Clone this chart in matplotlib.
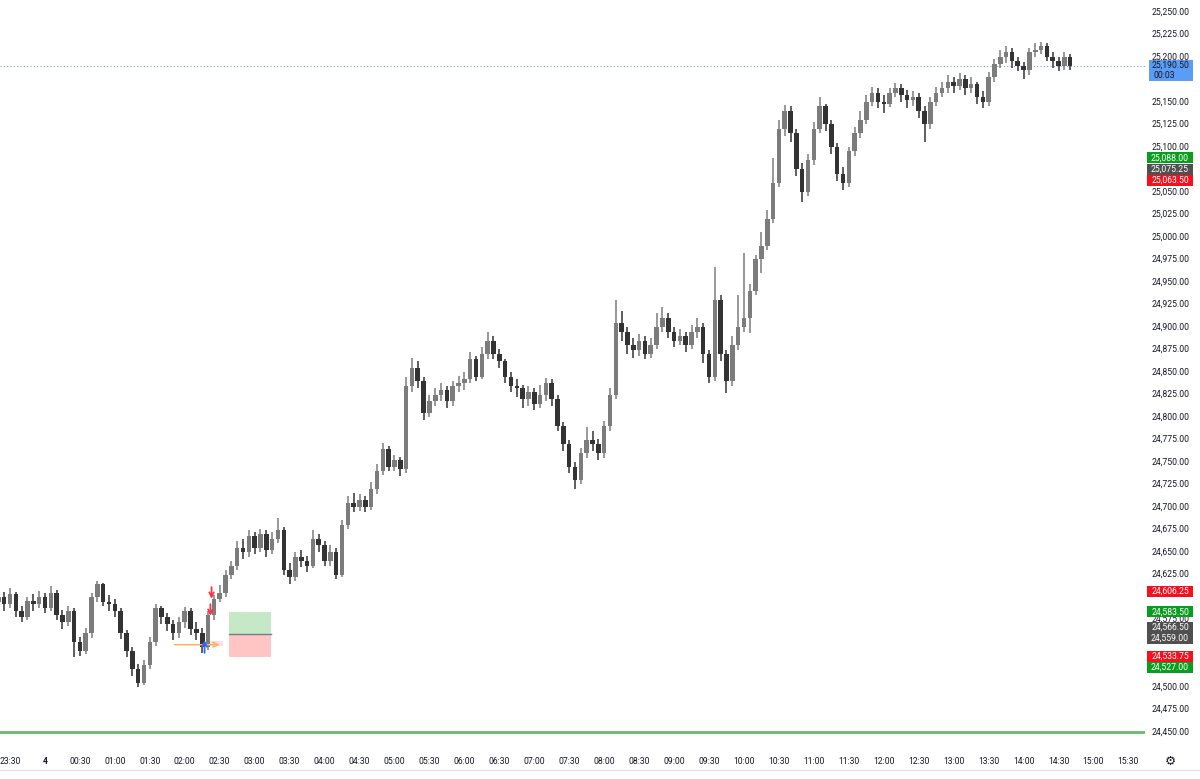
import matplotlib
matplotlib.use("Agg")
import matplotlib.pyplot as plt
import matplotlib.transforms as mtransforms
from matplotlib.patches import Rectangle
from matplotlib.lines import Line2D
import numpy as np

# ---------------- data ----------------
bar_start = "23:20"
bar_minutes = 5
first_open = 24595

closes = [
    24600, 24592, 24603, 24585, 24578, 24596, 24592, 24600, 24588, 24605,
    24580, 24572, 24585, 24550, 24540, 24560, 24600, 24615, 24595, 24592,
    24585, 24560, 24540, 24520, 24505, 24525, 24550, 24588, 24578, 24570,
    24560, 24572, 24585, 24565, 24560, 24545, 24580, 24598, 24605, 24625,
    24635, 24655, 24650, 24668, 24655, 24670, 24652, 24665, 24675, 24630,
    24622, 24645, 24640, 24635, 24665, 24658, 24640, 24650, 24625, 24680,
    24705, 24700, 24708, 24700, 24720, 24740, 24765, 24745, 24752, 24742,
    24835, 24855, 24840, 24805, 24818, 24825, 24830, 24818, 24835, 24838,
    24842, 24865, 24845, 24870, 24885, 24870, 24862, 24845, 24835, 24832,
    24820, 24828, 24815, 24825, 24838, 24820, 24790, 24770, 24745, 24730,
    24760, 24775, 24770, 24760, 24790, 24825, 24905, 24895, 24880, 24875,
    24885, 24870, 24880, 24900, 24910, 24895, 24885, 24890, 24880, 24895,
    24900, 24870, 24845, 24930, 24870, 24840, 24880, 24900, 24910, 24940,
    24975, 24990, 25020, 25060, 25120, 25140, 25115, 25075, 25050, 25085,
    25120, 25145, 25125, 25100, 25070, 25060, 25095, 25115, 25130, 25150,
    25160, 25150, 25148, 25160, 25165, 25158, 25152, 25155, 25140, 25125,
    25150, 25160, 25165, 25172, 25168, 25175, 25165, 25170, 25155, 25150,
    25178, 25192, 25200, 25205, 25195, 25190, 25185, 25205, 25208, 25212,
    25200, 25195, 25190, 25200, 25190.5,
]

highs = [
    24608, 24606, 24610, 24606, 24590, 24600, 24603, 24607, 24604, 24612,
    24608, 24586, 24590, 24588, 24556, 24566, 24604, 24618, 24616, 24602,
    24598, 24588, 24563, 24545, 24526, 24530, 24556, 24592, 24590, 24582,
    24575, 24578, 24589, 24588, 24572, 24566, 24584, 24602, 24613, 24630,
    24640, 24662, 24664, 24674, 24672, 24676, 24674, 24672, 24688, 24678,
    24638, 24650, 24652, 24646, 24674, 24670, 24662, 24658, 24655, 24686,
    24712, 24716, 24715, 24712, 24728, 24748, 24771, 24768, 24758, 24756,
    24845, 24866, 24862, 24845, 24825, 24832, 24838, 24835, 24840, 24846,
    24850, 24872, 24868, 24878, 24895, 24890, 24876, 24865, 24850, 24842,
    24836, 24834, 24832, 24836, 24843, 24842, 24824, 24795, 24775, 24750,
    24766, 24789, 24784, 24776, 24796, 24832, 24930, 24918, 24900, 24888,
    24892, 24890, 24888, 24915, 24922, 24915, 24900, 24898, 24895, 24902,
    24910, 24904, 24874, 24967, 24935, 24875, 24890, 24935, 24982, 24948,
    24980, 25005, 25030, 25088, 25130, 25147, 25145, 25120, 25082, 25092,
    25128, 25155, 25148, 25130, 25104, 25078, 25100, 25122, 25140, 25158,
    25167, 25165, 25158, 25166, 25171, 25170, 25163, 25162, 25160, 25145,
    25156, 25167, 25172, 25180, 25178, 25182, 25180, 25178, 25172, 25162,
    25183, 25198, 25208, 25212, 25210, 25200, 25194, 25210, 25215, 25217,
    25215, 25206, 25200, 25205, 25203,
]

lows = [
    24588, 24585, 24588, 24578, 24572, 24575, 24585, 24588, 24582, 24585,
    24575, 24565, 24568, 24533, 24534, 24537, 24555, 24594, 24590, 24585,
    24578, 24553, 24533, 24512, 24500, 24502, 24520, 24546, 24570, 24562,
    24552, 24555, 24566, 24558, 24552, 24538, 24541, 24575, 24594, 24600,
    24620, 24630, 24642, 24645, 24648, 24650, 24645, 24648, 24660, 24625,
    24615, 24618, 24633, 24628, 24632, 24650, 24634, 24635, 24620, 24622,
    24676, 24695, 24696, 24694, 24697, 24715, 24736, 24740, 24740, 24735,
    24738, 24828, 24832, 24797, 24800, 24812, 24818, 24810, 24812, 24828,
    24830, 24838, 24840, 24842, 24865, 24865, 24855, 24838, 24828, 24822,
    24810, 24812, 24808, 24810, 24818, 24812, 24785, 24762, 24738, 24720,
    24726, 24755, 24762, 24752, 24755, 24785, 24820, 24885, 24870, 24866,
    24868, 24865, 24866, 24876, 24895, 24888, 24878, 24880, 24872, 24876,
    24888, 24860, 24838, 24840, 24862, 24827, 24835, 24875, 24895, 24893,
    24935, 24960, 24985, 25015, 25055, 25112, 25105, 25068, 25039, 25045,
    25080, 25115, 25118, 25092, 25062, 25052, 25056, 25090, 25110, 25125,
    25145, 25143, 25138, 25144, 25155, 25150, 25143, 25145, 25132, 25106,
    25120, 25146, 25155, 25160, 25160, 25163, 25158, 25160, 25148, 25143,
    25146, 25172, 25188, 25193, 25188, 25184, 25176, 25180, 25200, 25203,
    25195, 25188, 25184, 25186, 25186,
]

time_labels = ["23:30", "4", "00:30", "01:00", "01:30", "02:00", "02:30", "03:00",
               "03:30", "04:00", "04:30", "05:00", "05:30", "06:00", "06:30", "07:00",
               "07:30", "08:00", "08:30", "09:00", "09:30", "10:00", "10:30", "11:00",
               "11:30", "12:00", "12:30", "13:00", "13:30", "14:00", "14:30", "15:00",
               "15:30"]
price_ticks = list(range(24450, 25251, 25))

last_price = 25190.50
countdown = "00:03"
green_level = 24450.0

# axis price tags (price, colour)
tag_prices = [25088.00, 25075.25, 25063.50, 24606.25, 24583.50, 24566.50,
              24559.00, 24533.75, 24527.00]
tag_colors = ["#0a9e1e", "#505050", "#f4111d", "#f4111d", "#0a9e1e", "#505050",
              "#505050", "#f4111d", "#0a9e1e"]

# trade annotations
entry_line = ("01:51", "02:30", 24547.0)
entry_shade = ("02:22", "02:33", 24545.5, 24551.0)
long_arrow = ("02:17", 24538.0, 24552.0)            # time, tail, tip
short_arrows = [("02:23", 24611.0, 24598.0), ("02:22", 24592.0, 24579.0)]
position = ("02:38", "03:14", 24583.50, 24559.00, 24533.75)  # start, end, target, entry, stop


def hours(s):
    h, m = map(int, s.split(":"))
    v = h + m / 60.0 - 23.5
    if v < -1:
        v += 24
    return v


# ---------------- figure ----------------
plt.rcParams['font.family'] = ['Roboto', 'DejaVu Sans']
FS = 6.2
W, H = 1200, 779
fig = plt.figure(figsize=(W / 100, H / 100), dpi=100)
fig.patch.set_facecolor("white")
ax = fig.add_axes([0, 34 / H, 1145 / W, 745 / H])
ax.set_xlim(-0.1431, 16.237)
ax.set_ylim(24435.56, 25263.33)
for s in ax.spines.values():
    s.set_visible(False)
ax.set_xticks([])
ax.set_yticks([])

n = len(closes)
c = np.array(closes, dtype=float)
o = np.array([first_open] + closes[:-1], dtype=float)
hi = np.maximum(np.array(highs, dtype=float), np.maximum(o, c))
lo = np.minimum(np.array(lows, dtype=float), np.minimum(o, c))
t = hours(bar_start) + np.arange(n) * bar_minutes / 60.0
up = c >= o
col = np.where(up, "#7c7c7c", "#333333")

ax.vlines(t, lo, hi, colors=col, lw=1.1, zorder=3)
ax.bar(t, np.maximum(np.abs(c - o), 0.6), bottom=np.minimum(o, c),
       width=0.78 * bar_minutes / 60.0, color=col, linewidth=0, zorder=4)

# level lines
ax.axhline(last_price, color="#2962ff", lw=0.8, ls=(0, (1, 2)), alpha=0.6, zorder=2)
ax.axhline(green_level, color="#66bb6a", lw=2, zorder=2)

# position box
ps, pe, ptgt, pent, pstp = position
ax.add_patch(Rectangle((hours(ps), pent), hours(pe) - hours(ps), ptgt - pent,
                       facecolor="#c5e8c6", edgecolor="none", zorder=2))
ax.add_patch(Rectangle((hours(ps), pstp), hours(pe) - hours(ps), pent - pstp,
                       facecolor="#ffc4c4", edgecolor="none", zorder=2))
ax.plot([hours(ps), hours(pe)], [pent, pent], color="#787b86", lw=1, zorder=3)

# entry line
es, ee, ep = entry_line
ss, se, sb, st = entry_shade
ax.add_patch(Rectangle((hours(ss), sb), hours(se) - hours(ss), st - sb,
                       facecolor="#f9d6e3", edgecolor="none", alpha=0.8, zorder=5))
ax.annotate("", xy=(hours(ee), ep), xytext=(hours(es), ep),
            arrowprops=dict(arrowstyle="->", color="#ffb060", lw=1.1,
                            mutation_scale=9, shrinkA=0, shrinkB=0), zorder=6)
lt, ltail, ltip = long_arrow
ax.annotate("", xy=(hours(lt), ltip), xytext=(hours(lt), ltail),
            arrowprops=dict(arrowstyle="->", color="#2962ff", lw=1.3,
                            mutation_scale=8, shrinkA=0, shrinkB=0), zorder=7)
for st_, tail, tip in short_arrows:
    ax.annotate("", xy=(hours(st_), tip), xytext=(hours(st_), tail),
                arrowprops=dict(arrowstyle="->", color="#f23645", lw=1.3,
                                mutation_scale=8, shrinkA=0, shrinkB=0), zorder=7)

# ---------------- price tags (positions first) ----------------
fig.canvas.draw()
def disp_y(p):
    return ax.transData.transform((0, p))[1]

tag_h = 11.0
x0, tw = 1147, 46
tag_pos = []
prev = None
for p, colr in sorted(zip(tag_prices, tag_colors), key=lambda z: -z[0]):
    yc = disp_y(p)
    if prev is not None and prev - yc < tag_h:
        yc = prev - tag_h
    prev = yc
    tag_pos.append((p, colr, yc))
yl = disp_y(last_price)
covered = [(yc - tag_h / 2, yc + tag_h / 2) for _, _, yc in tag_pos]
covered.append((yl - 15.5, yl + 5.5))

# ---------------- axes text ----------------
ytr = mtransforms.blended_transform_factory(fig.transFigure, ax.transData)
for p in price_ticks:
    yp = disp_y(p)
    if any(a - 1.5 < yp < b + 1.5 for a, b in covered):
        continue
    ax.text(1171 / W, p, f"{p:,.2f}", transform=ytr, ha="center", va="center",
            fontsize=FS, color="#131722", clip_on=False, zorder=1)

xtr = mtransforms.blended_transform_factory(ax.transData, fig.transFigure)
for k, lab in enumerate(time_labels):
    ax.text(k * 0.5, (H - 761) / H, lab, transform=xtr, ha="center", va="center",
            fontsize=FS, color="#131722", clip_on=False,
            fontweight="bold" if lab == "4" else "normal")

fig.add_artist(Line2D([0, 1], [(H - 770) / H] * 2, transform=fig.transFigure,
                      color="#e0e3eb", lw=1))
fig.text(1170 / W, (H - 761) / H, "\u2699", ha="center", va="center", fontsize=9,
         color="#131722", family="DejaVu Sans")

for p, colr, yc in tag_pos:
    fig.add_artist(Rectangle((x0 / W, (yc - tag_h / 2) / H), tw / W, tag_h / H,
                             transform=fig.transFigure, facecolor=colr,
                             edgecolor="none", zorder=10))
    fig.text((x0 + tw / 2) / W, yc / H, f"{p:,.2f}", ha="center", va="center",
             fontsize=FS, color="white", zorder=11)

fig.add_artist(Rectangle((1149 / W, (yl - 15.5) / H), 44 / W, 21 / H,
                         transform=fig.transFigure, facecolor="#5b9cf6",
                         edgecolor="none", zorder=10))
fig.text(1171 / W, yl / H, f"{last_price:,.2f}", ha="center", va="center",
         fontsize=FS, color="#131722", zorder=11)
fig.text(1153 / W, (yl - 10) / H, countdown, ha="left", va="center",
         fontsize=FS, color="#131722", zorder=11)

fig.savefig("out.png", dpi=100, facecolor="white")
